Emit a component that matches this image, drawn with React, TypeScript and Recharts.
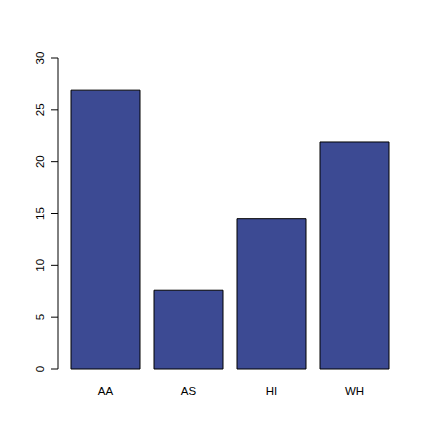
import { BarChart, Bar, XAxis, YAxis } from 'recharts'

const groups = ['AA', 'AS', 'HI', 'WH']
const values = [26.9, 7.6, 14.5, 21.9]
const yTicks = [0, 5, 10, 15, 20, 25, 30]

const data = groups.map((g, i) => ({ name: g, value: values[i] }))

const font = '"Liberation Sans", Arial, Helvetica, sans-serif'

function YTick({ y, payload }: any) {
  return (
    <text
      x={44}
      y={y}
      transform={`rotate(-90, 44, ${y})`}
      textAnchor="middle"
      fontSize={11.5}
      fontFamily={font}
      fill="#000"
    >
      {payload.value}
    </text>
  )
}

function XTick({ x, payload }: any) {
  return (
    <text x={x} y={394.5} textAnchor="middle" fontSize={11.5} fontFamily={font} fill="#000">
      {payload.value}
    </text>
  )
}

export default function App() {
  return (
    <div style={{ width: 432, height: 442, background: '#fff' }}>
      <style>{'body{margin:0}'}</style>
      <BarChart width={432} height={442} data={data} margin={{ top: 58, right: 30, bottom: 43, left: 0 }}>
        <XAxis
          dataKey="name"
          height={30}
          axisLine={false}
          tickLine={false}
          padding={{ left: 6, right: 6 }}
          tick={<XTick />}
          interval={0}
        />
        <YAxis
          width={58}
          domain={[0, 30]}
          ticks={yTicks}
          tickSize={7}
          axisLine={{ stroke: '#000' }}
          tickLine={{ stroke: '#000' }}
          tick={<YTick />}
          interval={0}
        />
        <Bar dataKey="value" fill="#3C4A93" stroke="#000" strokeWidth={1} barSize={69} isAnimationActive={false} />
      </BarChart>
    </div>
  )
}
